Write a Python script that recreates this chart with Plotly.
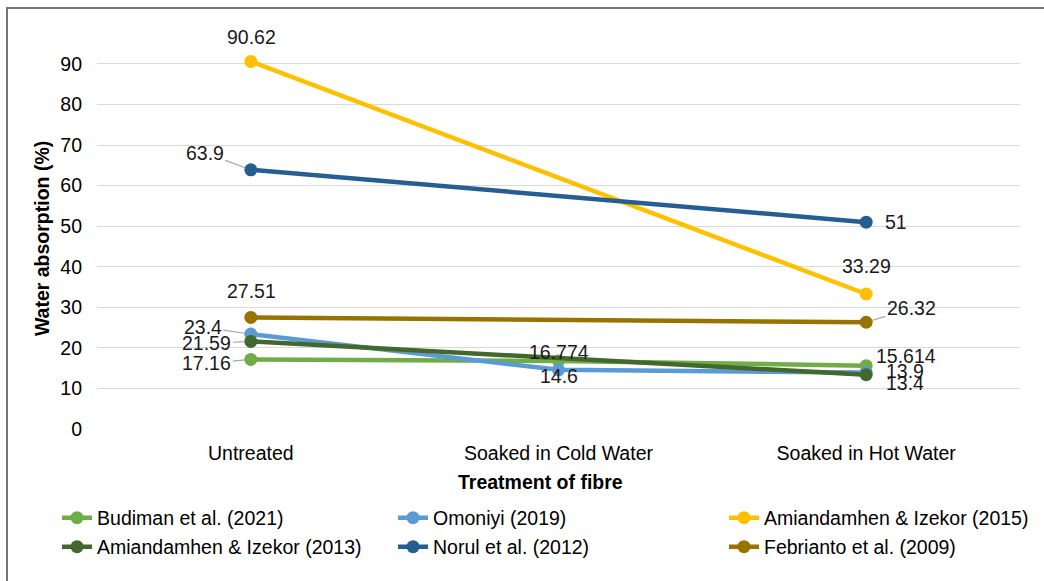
import plotly.graph_objects as go

categories = ["Untreated", "Soaked in Cold Water", "Soaked in Hot Water"]

series_names = [
    "Budiman et al. (2021)",
    "Omoniyi (2019)",
    "Amiandamhen & Izekor (2015)",
    "Amiandamhen & Izekor (2013)",
    "Norul et al. (2012)",
    "Febrianto et al. (2009)",
]
budiman_2021 = [17.16, 16.774, 15.614]
omoniyi_2019 = [23.4, 14.6, 13.9]
amiandamhen_2015 = [90.62, None, 33.29]
amiandamhen_2013 = [21.59, None, 13.4]
norul_2012 = [63.9, None, 51]
febrianto_2009 = [27.51, None, 26.32]
series_values = [budiman_2021, omoniyi_2019, amiandamhen_2015,
                 amiandamhen_2013, norul_2012, febrianto_2009]

colors = ["#70AD47", "#5B9BD5", "#FFC000", "#43682B", "#255E91", "#997300"]
y_ticks = [0, 10, 20, 30, 40, 50, 60, 70, 80, 90]

# which legend box each series goes in (row / column layout of the legend)
legend_of = ["legend", "legend", "legend3", "legend2", "legend2", "legend4"]

# label placement styles: (series index, category index) -> options
label_style = {
    (0, 0): dict(arrow=(-44, 4)),
    (0, 1): dict(shift=(0, 9)),
    (0, 2): dict(shift=(8, 10), anchor="left"),
    (1, 0): dict(arrow=(-48, -7)),
    (1, 1): dict(shift=(0, -6)),
    (1, 2): dict(shift=(18, 2), anchor="left"),
    (2, 0): dict(shift=(1, 24)),
    (2, 2): dict(shift=(0, 28)),
    (3, 0): dict(arrow=(-44, 2)),
    (3, 2): dict(shift=(18, -8), anchor="left"),
    (4, 0): dict(arrow=(-46, -17)),
    (4, 2): dict(shift=(17, 0), anchor="left"),
    (5, 0): dict(shift=(1, 26)),
    (5, 2): dict(arrow=(45, -14)),
}

FONT = "Liberation Sans, Arial, sans-serif"
FS = 19.5

fig = go.Figure()
for i, (name, vals, col) in enumerate(zip(series_names, series_values, colors)):
    fig.add_trace(go.Scatter(
        x=categories, y=vals, name=name, mode="lines+markers",
        line=dict(color=col, width=4.5), marker=dict(color=col, size=13),
        connectgaps=True, cliponaxis=False,
        legend=legend_of[i],
    ))

annotations = []
for (si, ci), st in label_style.items():
    v = series_values[si][ci]
    if v is None:
        continue
    base = dict(x=categories[ci], y=v, xref="x", yref="y", text=f"{v:g}",
                font=dict(family=FONT, size=FS, color="#1a1a1a"))
    if "arrow" in st:
        ax, ay = st["arrow"]
        base.update(showarrow=True, arrowhead=0, arrowwidth=1.2,
                    arrowcolor="#A6A6A6", ax=ax, ay=ay, standoff=6)
    else:
        xs, ys = st["shift"]
        base.update(showarrow=False, xshift=xs, yshift=ys,
                    xanchor=st.get("anchor", "center"))
    annotations.append(base)

# axis titles
annotations.append(dict(text="<b>Treatment of fibre</b>", xref="paper", yref="paper",
                        x=0.481, y=-0.140, showarrow=False,
                        xanchor="center", yanchor="middle",
                        font=dict(family=FONT, size=FS, color="black")))
annotations.append(dict(text="<b>Water absorption (%)</b>", xref="paper", yref="paper",
                        x=-0.0596, y=0.505, showarrow=False, textangle=-90,
                        xanchor="center", yanchor="middle",
                        font=dict(family=FONT, size=FS, color="black")))

legend_common = dict(orientation="h", xanchor="left", yanchor="middle",
                     font=dict(family=FONT, size=FS, color="black"),
                     bgcolor="rgba(0,0,0,0)", entrywidthmode="pixels")
row1_y, row2_y = -0.2354, -0.3122
col1_x, col3_x = -0.0433, 0.6793

fig.update_layout(
    width=1044, height=581,
    margin=dict(l=97, r=24, t=51, b=152),
    paper_bgcolor="white", plot_bgcolor="white",
    font=dict(family=FONT, size=FS, color="black"),
    xaxis=dict(showgrid=False, showline=False, zeroline=False,
               tickfont=dict(family=FONT, size=FS, color="black"),
               ticklabelstandoff=10, range=[-0.5, 2.5]),
    yaxis=dict(range=[0, 93.2], tickvals=y_ticks, showgrid=True,
               gridcolor="#D9D9D9", gridwidth=1.3, zeroline=False, showline=False,
               tickfont=dict(family=FONT, size=FS, color="black"),
               ticklabelstandoff=14),
    legend=dict(legend_common, x=col1_x, y=row1_y, entrywidth=291),
    legend2=dict(legend_common, x=col1_x, y=row2_y, entrywidth=291),
    legend3=dict(legend_common, x=col3_x, y=row1_y, entrywidth=262),
    legend4=dict(legend_common, x=col3_x, y=row2_y, entrywidth=262),
    annotations=annotations,
    showlegend=True,
    shapes=[dict(type="rect", xref="paper", yref="paper",
                 x0=(7 - 97) / 923, x1=(1060 - 97) / 923,
                 y0=(429 - 600) / 378, y1=(429 - 8) / 378,
                 line=dict(color="#767676", width=2), layer="below")],
)

fig.write_html("out.html", config={"displayModeBar": False},
               post_script="document.body.style.margin='0px';")
